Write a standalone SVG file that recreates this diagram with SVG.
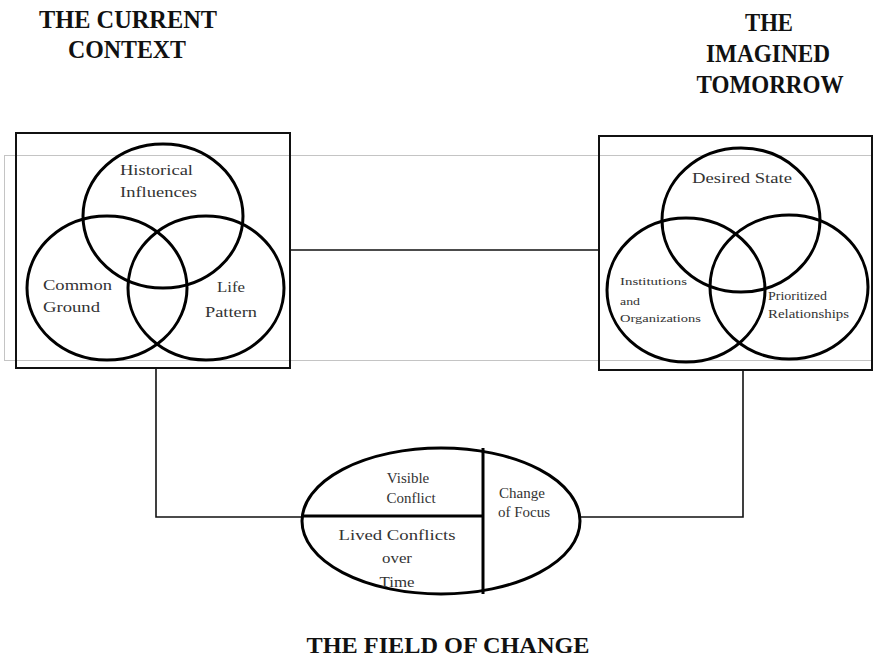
<svg xmlns="http://www.w3.org/2000/svg" width="874" height="657" viewBox="0 0 874 657">
<style>
.bg{fill:#fff}
.guide{fill:none;stroke:#c4c4c4;stroke-width:1}
.box{fill:none;stroke:#111;stroke-width:2}
.ring{fill:none;stroke:#000;stroke-width:3}
.conn{fill:none;stroke:#111;stroke-width:1.6}
.div{fill:none;stroke:#000;stroke-width:3}
.hd{font-family:"Liberation Serif","Times New Roman",serif;font-weight:bold;font-size:26px;fill:#111;text-anchor:middle}
.bt{font-family:"Liberation Serif","Times New Roman",serif;font-weight:bold;font-size:23px;fill:#111;text-anchor:middle}
.lb{font-family:"Liberation Serif","Times New Roman",serif;font-size:15px;fill:#333}
.sm{font-family:"Liberation Serif","Times New Roman",serif;font-size:11px;fill:#333}
.ps{font-family:"Liberation Serif","Times New Roman",serif;font-size:12.5px;fill:#333}
</style>
<rect class="bg" width="874" height="657"/>
<rect class="guide" x="4.5" y="155.5" width="867" height="205"/>
<g id="connectors">
<line class="conn" x1="290" y1="250" x2="599" y2="250"/>
<polyline class="conn" points="156,368 156,517 303,517"/>
<polyline class="conn" points="743,370 743,517 579,517"/>
</g>
<g id="title-current">
<text class="hd" x="128" y="28" textLength="178" lengthAdjust="spacingAndGlyphs">THE CURRENT</text>
<text class="hd" x="127" y="58" textLength="118" lengthAdjust="spacingAndGlyphs">CONTEXT</text>
</g>
<g id="title-imagined">
<text class="hd" x="769" y="31" textLength="48" lengthAdjust="spacingAndGlyphs">THE</text>
<text class="hd" x="768" y="62" textLength="124" lengthAdjust="spacingAndGlyphs">IMAGINED</text>
<text class="hd" x="770" y="93" textLength="147" lengthAdjust="spacingAndGlyphs">TOMORROW</text>
</g>
<g id="title-field">
<text class="bt" x="448" y="653" textLength="283" lengthAdjust="spacingAndGlyphs">THE FIELD OF CHANGE</text>
</g>
<g id="current-context">
<rect class="box" x="16" y="133" width="274" height="235"/>
<g id="historical-influences">
<ellipse class="ring" cx="163" cy="216" rx="80" ry="72"/>
<text class="lb" x="120" y="175" textLength="73" lengthAdjust="spacingAndGlyphs">Historical</text>
<text class="lb" x="120" y="197" textLength="77" lengthAdjust="spacingAndGlyphs">Influences</text>
</g>
<g id="common-ground">
<ellipse class="ring" cx="107" cy="288" rx="80" ry="72"/>
<text class="lb" x="43" y="290" textLength="69" lengthAdjust="spacingAndGlyphs">Common</text>
<text class="lb" x="43" y="312" textLength="57" lengthAdjust="spacingAndGlyphs">Ground</text>
</g>
<g id="life-pattern">
<ellipse class="ring" cx="206" cy="288" rx="78" ry="72"/>
<text class="lb" x="217" y="292" textLength="28" lengthAdjust="spacingAndGlyphs">Life</text>
<text class="lb" x="205" y="317" textLength="52" lengthAdjust="spacingAndGlyphs">Pattern</text>
</g>
</g>
<g id="imagined-tomorrow">
<rect class="box" x="599" y="136" width="273" height="234"/>
<g id="desired-state">
<ellipse class="ring" cx="741" cy="220" rx="79" ry="72"/>
<text class="lb" x="692" y="183" font-size="17" textLength="100" lengthAdjust="spacingAndGlyphs">Desired State</text>
</g>
<g id="institutions">
<ellipse class="ring" cx="686" cy="290" rx="79" ry="72"/>
<text class="sm" x="620" y="285" textLength="67" lengthAdjust="spacingAndGlyphs">Institutions</text>
<text class="sm" x="620" y="305" textLength="20" lengthAdjust="spacingAndGlyphs">and</text>
<text class="sm" x="620" y="322" textLength="81" lengthAdjust="spacingAndGlyphs">Organizations</text>
</g>
<g id="prioritized-relationships">
<ellipse class="ring" cx="789" cy="287" rx="79" ry="72"/>
<text class="ps" x="768" y="300" textLength="59" lengthAdjust="spacingAndGlyphs">Prioritized</text>
<text class="ps" x="768" y="318" textLength="81" lengthAdjust="spacingAndGlyphs">Relationships</text>
</g>
</g>
<g id="field-of-change">
<ellipse class="ring" cx="441" cy="521" rx="139" ry="73"/>
<line class="div" x1="303" y1="516" x2="483" y2="516"/>
<line class="div" x1="483" y1="448" x2="483" y2="594"/>
<g id="visible-conflict">
<text class="lb" x="408" y="483" text-anchor="middle" font-size="14">Visible</text>
<text class="lb" x="411" y="503" text-anchor="middle" font-size="14">Conflict</text>
</g>
<g id="lived-conflicts">
<text class="lb" x="397" y="540" text-anchor="middle" textLength="117" lengthAdjust="spacingAndGlyphs">Lived Conflicts</text>
<text class="lb" x="397" y="563" text-anchor="middle" textLength="30" lengthAdjust="spacingAndGlyphs">over</text>
<text class="lb" x="397" y="587" text-anchor="middle" textLength="35" lengthAdjust="spacingAndGlyphs">Time</text>
</g>
<g id="change-of-focus">
<text class="lb" x="522" y="498" text-anchor="middle">Change</text>
<text class="lb" x="524" y="517" text-anchor="middle">of Focus</text>
</g>
</g>
</svg>
